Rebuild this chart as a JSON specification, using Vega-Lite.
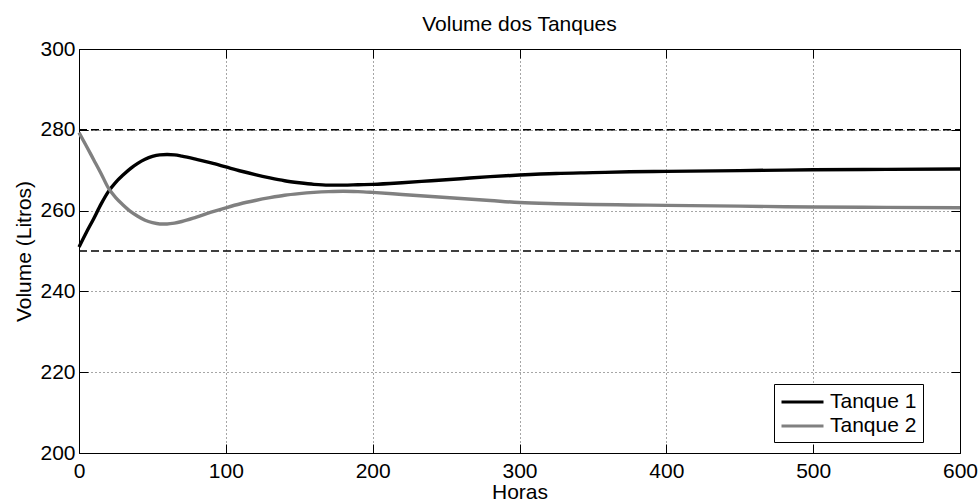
{
  "$schema": "https://vega.github.io/schema/vega-lite/v6.json",
  "width": 881,
  "height": 404,
  "autosize": {"type": "none"},
  "padding": {"left": 79, "top": 49, "right": 19, "bottom": 51},
  "background": "white",
  "title": {"text": "Volume dos Tanques", "fontSize": 21, "fontWeight": "normal", "font": "Liberation Sans", "color": "#000", "offset": 3, "anchor": "middle"},
  "config": {
    "view": {"stroke": "#000", "strokeWidth": 1},
    "axis": {
      "labelFont": "Liberation Sans", "titleFont": "Liberation Sans",
      "labelFontSize": 21, "titleFontSize": 21, "titleFontWeight": "normal",
      "labelColor": "#000", "titleColor": "#000",
      "domain": false, "ticks": true, "tickColor": "#000", "tickSize": -9, "tickWidth": 1,
      "gridColor": "#000", "gridDash": [1, 3], "gridOpacity": 0.7, "gridWidth": 1,
      "labelFlush": false, "labelOverlap": false
    },
    "legend": {
      "orient": "none", "legendX": 695, "legendY": 335, "direction": "vertical",
      "fillColor": "white", "strokeColor": "#000", "strokeWidth": 1, "padding": 6, "cornerRadius": 0,
      "labelFont": "Liberation Sans", "labelFontSize": 21, "labelColor": "#000", "labelLimit": 0,
      "symbolType": "M-1,0H3", "symbolStrokeWidth": 3, "symbolSize": 441, "labelOffset": 26, "rowPadding": 2
    }
  },
  "datasets": {
    "limits": [
      {"nivel": 250, "t0": 0, "t1": 600},
      {"nivel": 280, "t0": 0, "t1": 600}
    ],
    "series": [
      {"serie": "Tanque 1", "t": 0, "v": 251.0},
      {"serie": "Tanque 1", "t": 5, "v": 254.6},
      {"serie": "Tanque 1", "t": 10, "v": 258.0},
      {"serie": "Tanque 1", "t": 15, "v": 261.6},
      {"serie": "Tanque 1", "t": 20, "v": 264.7},
      {"serie": "Tanque 1", "t": 25, "v": 267.0},
      {"serie": "Tanque 1", "t": 30, "v": 268.8},
      {"serie": "Tanque 1", "t": 35, "v": 270.4},
      {"serie": "Tanque 1", "t": 40, "v": 271.7},
      {"serie": "Tanque 1", "t": 45, "v": 272.7},
      {"serie": "Tanque 1", "t": 50, "v": 273.4},
      {"serie": "Tanque 1", "t": 55, "v": 273.8},
      {"serie": "Tanque 1", "t": 60, "v": 273.9},
      {"serie": "Tanque 1", "t": 65, "v": 273.8},
      {"serie": "Tanque 1", "t": 70, "v": 273.5},
      {"serie": "Tanque 1", "t": 80, "v": 272.7},
      {"serie": "Tanque 1", "t": 90, "v": 271.8},
      {"serie": "Tanque 1", "t": 100, "v": 270.8},
      {"serie": "Tanque 1", "t": 110, "v": 269.8},
      {"serie": "Tanque 1", "t": 120, "v": 268.9},
      {"serie": "Tanque 1", "t": 130, "v": 268.1},
      {"serie": "Tanque 1", "t": 140, "v": 267.4},
      {"serie": "Tanque 1", "t": 150, "v": 266.9},
      {"serie": "Tanque 1", "t": 160, "v": 266.5},
      {"serie": "Tanque 1", "t": 170, "v": 266.3},
      {"serie": "Tanque 1", "t": 180, "v": 266.3},
      {"serie": "Tanque 1", "t": 190, "v": 266.4},
      {"serie": "Tanque 1", "t": 200, "v": 266.5},
      {"serie": "Tanque 1", "t": 220, "v": 266.9},
      {"serie": "Tanque 1", "t": 240, "v": 267.4},
      {"serie": "Tanque 1", "t": 260, "v": 267.9},
      {"serie": "Tanque 1", "t": 280, "v": 268.4},
      {"serie": "Tanque 1", "t": 300, "v": 268.8},
      {"serie": "Tanque 1", "t": 325, "v": 269.2},
      {"serie": "Tanque 1", "t": 350, "v": 269.4},
      {"serie": "Tanque 1", "t": 375, "v": 269.6},
      {"serie": "Tanque 1", "t": 400, "v": 269.7},
      {"serie": "Tanque 1", "t": 450, "v": 269.9},
      {"serie": "Tanque 1", "t": 500, "v": 270.1},
      {"serie": "Tanque 1", "t": 550, "v": 270.2},
      {"serie": "Tanque 1", "t": 600, "v": 270.3},
      {"serie": "Tanque 2", "t": 0, "v": 279.3},
      {"serie": "Tanque 2", "t": 5, "v": 276.0},
      {"serie": "Tanque 2", "t": 10, "v": 272.6},
      {"serie": "Tanque 2", "t": 15, "v": 269.2},
      {"serie": "Tanque 2", "t": 20, "v": 265.6},
      {"serie": "Tanque 2", "t": 25, "v": 263.2},
      {"serie": "Tanque 2", "t": 30, "v": 261.4},
      {"serie": "Tanque 2", "t": 35, "v": 259.8},
      {"serie": "Tanque 2", "t": 40, "v": 258.6},
      {"serie": "Tanque 2", "t": 45, "v": 257.6},
      {"serie": "Tanque 2", "t": 50, "v": 257.0},
      {"serie": "Tanque 2", "t": 55, "v": 256.7},
      {"serie": "Tanque 2", "t": 60, "v": 256.7},
      {"serie": "Tanque 2", "t": 65, "v": 256.9},
      {"serie": "Tanque 2", "t": 70, "v": 257.3},
      {"serie": "Tanque 2", "t": 80, "v": 258.4},
      {"serie": "Tanque 2", "t": 90, "v": 259.6},
      {"serie": "Tanque 2", "t": 100, "v": 260.7},
      {"serie": "Tanque 2", "t": 110, "v": 261.7},
      {"serie": "Tanque 2", "t": 120, "v": 262.5},
      {"serie": "Tanque 2", "t": 130, "v": 263.2},
      {"serie": "Tanque 2", "t": 140, "v": 263.8},
      {"serie": "Tanque 2", "t": 150, "v": 264.2},
      {"serie": "Tanque 2", "t": 160, "v": 264.5},
      {"serie": "Tanque 2", "t": 170, "v": 264.7},
      {"serie": "Tanque 2", "t": 180, "v": 264.8},
      {"serie": "Tanque 2", "t": 190, "v": 264.7},
      {"serie": "Tanque 2", "t": 200, "v": 264.5},
      {"serie": "Tanque 2", "t": 220, "v": 264.0},
      {"serie": "Tanque 2", "t": 240, "v": 263.5},
      {"serie": "Tanque 2", "t": 260, "v": 263.0},
      {"serie": "Tanque 2", "t": 280, "v": 262.5},
      {"serie": "Tanque 2", "t": 300, "v": 262.0},
      {"serie": "Tanque 2", "t": 325, "v": 261.7},
      {"serie": "Tanque 2", "t": 350, "v": 261.5},
      {"serie": "Tanque 2", "t": 375, "v": 261.4},
      {"serie": "Tanque 2", "t": 400, "v": 261.3},
      {"serie": "Tanque 2", "t": 450, "v": 261.1},
      {"serie": "Tanque 2", "t": 500, "v": 260.9},
      {"serie": "Tanque 2", "t": 550, "v": 260.8},
      {"serie": "Tanque 2", "t": 600, "v": 260.7}
    ]
  },
  "resolve": {"axis": {"x": "independent", "y": "independent"}},
  "layer": [
    {
      "data": {"name": "limits"},
      "mark": {"type": "rule", "color": "#000", "strokeWidth": 1.6, "strokeDash": [8, 4]},
      "encoding": {
        "y": {"field": "nivel", "type": "quantitative", "scale": {"domain": [200, 300], "nice": false},
              "axis": {"orient": "right", "labels": false, "grid": false, "title": null, "values": [200, 220, 240, 260, 280, 300]}},
        "x": {"field": "t0", "type": "quantitative", "scale": {"domain": [0, 600], "nice": false},
              "axis": {"orient": "top", "labels": false, "grid": false, "title": null, "values": [0, 100, 200, 300, 400, 500, 600]}},
        "x2": {"field": "t1"}
      }
    },
    {
      "data": {"name": "series"},
      "mark": {"type": "line", "strokeWidth": 3.4, "interpolate": "monotone"},
      "encoding": {
        "x": {"field": "t", "type": "quantitative", "scale": {"domain": [0, 600], "nice": false},
              "axis": {"orient": "bottom", "title": "Horas", "values": [0, 100, 200, 300, 400, 500, 600], "grid": true, "labelPadding": 16, "titlePadding": 0}},
        "y": {"field": "v", "type": "quantitative", "scale": {"domain": [200, 300], "nice": false},
              "axis": {"orient": "left", "title": "Volume (Litros)", "values": [200, 220, 240, 260, 280, 300], "grid": true, "labelPadding": 13, "titlePadding": 5}},
        "color": {"field": "serie", "type": "nominal",
                  "scale": {"domain": ["Tanque 1", "Tanque 2"], "range": ["#000000", "#808080"]},
                  "legend": {"title": null}}
      }
    }
  ]
}
